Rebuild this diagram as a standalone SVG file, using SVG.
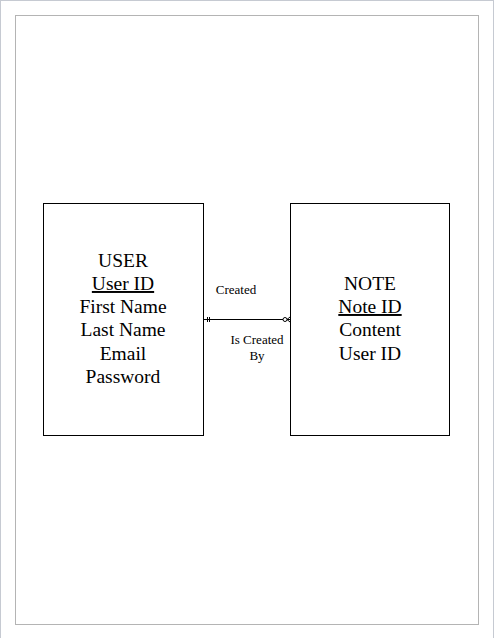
<svg xmlns="http://www.w3.org/2000/svg" width="494" height="638" viewBox="0 0 494 638">
<style>
.ent{fill:#fff;stroke:#000;stroke-width:1}
.t{font-size:19.5px;fill:#000;text-anchor:middle}
.l{font-size:13px;fill:#000;text-anchor:middle}
.c{stroke:#000;stroke-width:1;fill:none}
</style>
<rect x="0" y="0" width="494" height="638" fill="#fff"/>
<rect x="0.5" y="0.5" width="493" height="640" fill="none" stroke="#c6cad2"/>
<rect x="15.5" y="15.5" width="463" height="609" fill="none" stroke="#b4b4b4"/>
<g font-family="Liberation Serif, Times New Roman, Tinos, DejaVu Serif, serif">
<g id="user">
<rect class="ent" x="43.5" y="203.5" width="160" height="232"/>
<text class="t" x="123" y="267">USER</text>
<text class="t" x="123" y="290" text-decoration="underline">User ID</text>
<text class="t" x="123" y="313">First Name</text>
<text class="t" x="123" y="336">Last Name</text>
<text class="t" x="123" y="360">Email</text>
<text class="t" x="123" y="383">Password</text>
</g>
<g id="note">
<rect class="ent" x="290.5" y="203.5" width="159" height="232"/>
<text class="t" x="370" y="290">NOTE</text>
<text class="t" x="370" y="313" text-decoration="underline">Note ID</text>
<text class="t" x="370" y="336">Content</text>
<text class="t" x="370" y="360">User ID</text>
</g>
<g id="connectors">
<line class="c" x1="204" y1="319.5" x2="290" y2="319.5"/>
<line class="c" x1="207.5" y1="317" x2="207.5" y2="322"/>
<line class="c" x1="209.5" y1="317" x2="209.5" y2="322"/>
<circle cx="285" cy="319.5" r="2" fill="#fff" stroke="#000"/>
<path class="c" d="M287 319.5 L290 317 M287 319.5 L290 322"/>
<text class="l" x="236" y="294">Created</text>
<text class="l" x="257" y="344">Is Created</text>
<text class="l" x="257" y="360">By</text>
</g>
</g>
</svg>
